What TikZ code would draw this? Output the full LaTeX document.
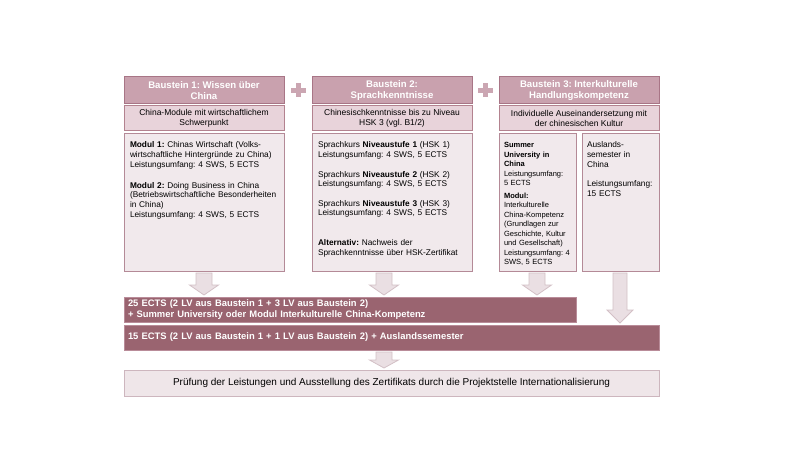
\documentclass[tikz,border=0pt]{standalone}
\usepackage{fontspec}
\setmainfont{Liberation Sans}
\usetikzlibrary{calc,positioning}
\frenchspacing

\definecolor{hdrfill}{HTML}{C9A1AE}
\definecolor{hdrdraw}{HTML}{A87586}
\definecolor{subfill}{HTML}{E8D3DA}
\definecolor{subdraw}{HTML}{B3828F}
\definecolor{boxfill}{HTML}{F1E9EC}
\definecolor{boxdraw}{HTML}{B48A97}
\definecolor{barfill}{HTML}{9A6470}
\definecolor{bardraw}{HTML}{B98C99}
\definecolor{arrfill}{HTML}{EADFE3}
\definecolor{arrdraw}{HTML}{D3C0C6}
\definecolor{botfill}{HTML}{EFE6E9}
\definecolor{botdraw}{HTML}{CDB6BE}
\definecolor{pluscol}{HTML}{CBA6B2}

% block arrow: x, from node, to node, half shaft, half head, head length
\newcommand{\blockdown}[6]{%
  \draw[blockarr] let \p1=(#2.south), \p2=(#3.north) in
    (#1-#4,\y1-2) -- (#1+#4,\y1-2) -- (#1+#4,\y2+2+#6) -- (#1+#5,\y2+2+#6)
    -- (#1,\y2+2) -- (#1-#5,\y2+2+#6) -- (#1-#4,\y2+2+#6) -- cycle;}

\begin{document}
\begin{tikzpicture}[x=1pt,y=1pt,node distance=3pt,
  hdr/.style={draw=hdrdraw,fill=hdrfill,line width=1pt,outer sep=0pt,minimum width=160pt,minimum height=27pt,inner sep=1pt,align=center,text=white,font=\fontsize{9.6}{11.5}\selectfont\bfseries},
  sub/.style={draw=subdraw,fill=subfill,line width=1pt,outer sep=0pt,minimum width=160pt,minimum height=25pt,inner sep=1pt,align=center,font=\fontsize{8.5}{10}\selectfont},
  content/.style={draw=boxdraw,fill=boxfill,line width=1pt,outer sep=0pt,align=left,inner xsep=6pt,inner ysep=6pt,text width=148pt,text height=8pt,text depth=117pt,font=\fontsize{8.3}{9.7}\selectfont},
  bar/.style={draw=bardraw,fill=barfill,line width=1pt,outer sep=0pt,anchor=north west,minimum height=25pt,inner xsep=4pt,inner ysep=1pt,align=left,text=white,font=\fontsize{9.4}{11}\selectfont\bfseries},
  bottom/.style={draw=botdraw,fill=botfill,line width=1pt,outer sep=0pt,anchor=north west,minimum width=535pt,minimum height=26pt,font=\fontsize{10}{12}\selectfont},
  blockarr/.style={draw=arrdraw,fill=arrfill,line width=0.8pt,line join=miter}]
\useasboundingbox (0,0) rectangle (800,-457);

% the three building blocks
\node[hdr,anchor=north west] (h1) at (124,-77) {Baustein 1: Wissen über\\China};
\node[hdr,right=28pt of h1] (h2) {Baustein 2:\\Sprachkenntnisse};
\node[hdr,right=27pt of h2] (h3) {Baustein 3: Interkulturelle\\Handlungskompetenz};

\node[sub,below=2pt of h1] (s1) {China-Module mit wirtschaftlichem\\Schwerpunkt};
\node[sub,below=2pt of h2] (s2) {Chinesischkenntnisse bis zu Niveau\\HSK 3 (vgl. B1/2)};
\node[sub,below=2pt of h3] (s3) {Individuelle Auseinandersetzung mit\\der chinesischen Kultur};

\node[content,below=of s1] (c1) {\textbf{Modul 1:} Chinas Wirtschaft (Volks-\\
wirtschaftliche Hintergründe zu China)\\
Leistungsumfang: 4 SWS, 5 ECTS\\[11pt]
\textbf{Modul 2:} Doing Business in China\\
(Betriebswirtschaftliche Besonderheiten\\
in China)\\
Leistungsumfang: 4 SWS, 5 ECTS};
\node[content,below=of s2] (c2) {Sprachkurs \textbf{Niveaustufe 1} (HSK 1)\\
Leistungsumfang: 4 SWS, 5 ECTS\\[9.7pt]
Sprachkurs \textbf{Niveaustufe 2} (HSK 2)\\
Leistungsumfang: 4 SWS, 5 ECTS\\[9.7pt]
Sprachkurs \textbf{Niveaustufe 3} (HSK 3)\\
Leistungsumfang: 4 SWS, 5 ECTS\\[20pt]
\textbf{Alternativ:} Nachweis der\\
Sprachkenntnisse über HSK-Zertifikat};
\node[content,text width=67pt,inner xsep=5pt,font=\fontsize{7.5}{9.5}\selectfont,
  below=of s3.south west,anchor=north west] (c3a) {\textbf{Summer}\\
\textbf{University in}\\
\textbf{China}\\
Leistungsumfang:\\
5 ECTS\\[3pt]
\textbf{Modul:}\\
Interkulturelle\\
China-Kompetenz\\
(Grundlagen zur\\
Geschichte, Kultur\\
und Gesellschaft)\\
Leistungsumfang: 4\\
SWS, 5 ECTS};
\node[content,text width=67pt,inner xsep=5pt,below=of s3.south east,anchor=north east] (c3b) {Auslands-\\
semester in\\
China\\[9.7pt]
Leistungsumfang:\\
15 ECTS};

% plus signs
\coordinate (p1) at ($(h1.east)!0.5!(h2.west)$);
\coordinate (p2) at ($(h2.east)!0.5!(h3.west)$);
\foreach \p in {p1,p2}{
  \fill[pluscol] ($(\p)+(-7.5,-2.5)$) rectangle ($(\p)+(7.5,2.5)$);
  \fill[pluscol] ($(\p)+(-2.5,-7)$) rectangle ($(\p)+(2.5,7)$);
}

% results
\node[bar,text width=444pt] (bar1) at (124,-297) {25 ECTS (2 LV aus Baustein 1 + 3 LV aus Baustein 2)\\
+ Summer University oder Modul Interkulturelle China-Kompetenz};
\node[bar,text width=527pt,below=3pt of bar1.south west,anchor=north west] (bar2) {15 ECTS (2 LV aus Baustein 1 + 1 LV aus Baustein 2) + Auslandssemester};
\node[bottom,below=20pt of bar2.south west,anchor=north west] (bot) {Prüfung der Leistungen und Ausstellung des Zertifikats durch die Projektstelle Internationalisierung};

% arrows
\blockdown{204}{c1}{bar1}{8}{14.5}{10}
\blockdown{384}{c2}{bar1}{8}{14.5}{10}
\blockdown{537}{c3a}{bar1}{8}{14.5}{10}
\blockdown{620}{c3b}{bar2}{7}{13}{13}
\blockdown{384}{bar2}{bot}{8}{14.5}{8}
\end{tikzpicture}
\end{document}
